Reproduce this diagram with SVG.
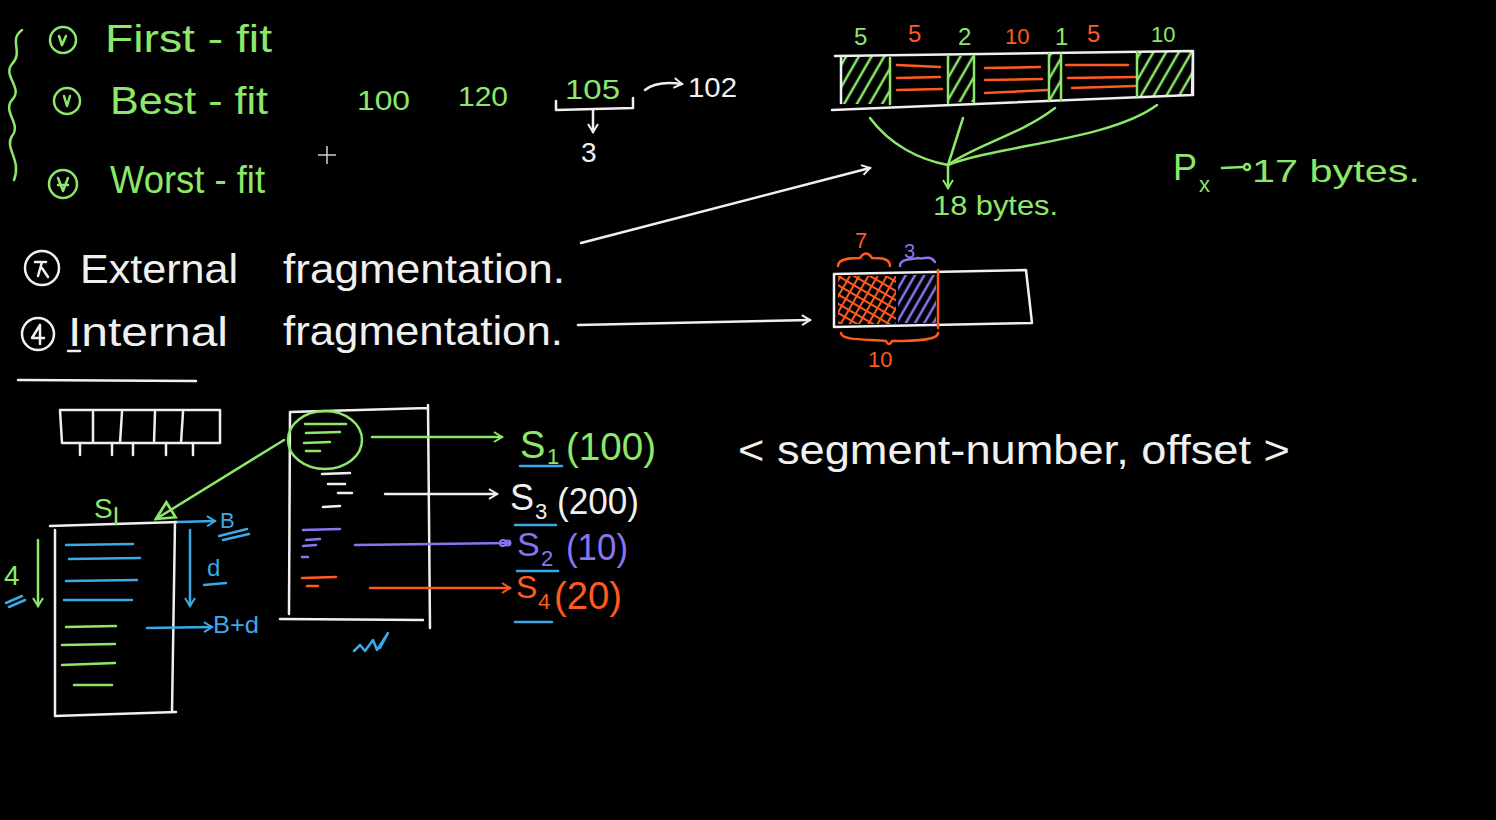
<svg xmlns="http://www.w3.org/2000/svg" width="1496" height="820" viewBox="0 0 1496 820">
<defs>
<style>
.g{fill:none;stroke:#8de86a;stroke-width:2.5;stroke-linecap:round;stroke-linejoin:round}
.w{fill:none;stroke:#f0f0f0;stroke-width:2.5;stroke-linecap:round;stroke-linejoin:round}
.o{fill:none;stroke:#ff5a1f;stroke-width:2.5;stroke-linecap:round;stroke-linejoin:round}
.p{fill:none;stroke:#8b74f0;stroke-width:2.5;stroke-linecap:round;stroke-linejoin:round}
.b{fill:none;stroke:#3ba9e6;stroke-width:2.5;stroke-linecap:round;stroke-linejoin:round}
text{font-family:"Liberation Sans","DejaVu Sans",sans-serif}
.tg{fill:#8de86a}.tw{fill:#f0f0f0}.to{fill:#ff5a1f}.tp{fill:#8b74f0}.tb{fill:#3ba9e6}
</style>
<pattern id="hg" width="11" height="11" patternUnits="userSpaceOnUse" patternTransform="rotate(30)"><line x1="2" y1="0" x2="2" y2="11" stroke="#8de86a" stroke-width="2.5"/></pattern>
<pattern id="hp" width="8" height="8" patternUnits="userSpaceOnUse" patternTransform="rotate(30)"><line x1="2" y1="0" x2="2" y2="8" stroke="#8b74f0" stroke-width="2.5"/></pattern>
<pattern id="ho" width="8" height="8" patternUnits="userSpaceOnUse" patternTransform="rotate(30)"><line x1="2" y1="0" x2="2" y2="8" stroke="#ff5a1f" stroke-width="2"/><line x1="0" y1="4" x2="8" y2="4" stroke="#ff5a1f" stroke-width="2"/></pattern>
<marker id="mw" viewBox="0 0 12 12" refX="10" refY="6" markerWidth="12" markerHeight="12" markerUnits="userSpaceOnUse" orient="auto"><path d="M2,1 L10,6 L2,11" fill="none" stroke="#f0f0f0" stroke-width="2"/></marker>
<marker id="mg" viewBox="0 0 12 12" refX="10" refY="6" markerWidth="12" markerHeight="12" markerUnits="userSpaceOnUse" orient="auto"><path d="M2,1 L10,6 L2,11" fill="none" stroke="#8de86a" stroke-width="2"/></marker>
<marker id="mgt" viewBox="0 0 20 20" refX="18" refY="10" markerWidth="22" markerHeight="22" markerUnits="userSpaceOnUse" orient="auto"><path d="M2,2 L18,10 L2,18 Z" fill="none" stroke="#8de86a" stroke-width="2.5"/></marker>
<marker id="mo" viewBox="0 0 12 12" refX="10" refY="6" markerWidth="12" markerHeight="12" markerUnits="userSpaceOnUse" orient="auto"><path d="M2,1 L10,6 L2,11" fill="none" stroke="#ff5a1f" stroke-width="2"/></marker>
<marker id="mb" viewBox="0 0 12 12" refX="10" refY="6" markerWidth="12" markerHeight="12" markerUnits="userSpaceOnUse" orient="auto"><path d="M2,1 L10,6 L2,11" fill="none" stroke="#3ba9e6" stroke-width="2"/></marker>
<marker id="mp" viewBox="0 0 14 10" refX="12" refY="5" markerWidth="14" markerHeight="10" markerUnits="userSpaceOnUse" orient="auto"><circle cx="5" cy="5" r="3" fill="none" stroke="#8b74f0" stroke-width="2"/><circle cx="10" cy="5" r="2.5" fill="none" stroke="#8b74f0" stroke-width="2"/></marker>
</defs>
<rect width="1496" height="820" fill="#000"/>

<g id="fit-list">
<path class="g" d="M22,30 C8,40 24,52 12,64 C2,76 24,88 12,100 C2,112 22,124 12,136 C4,148 22,160 14,180"/>
<circle class="g" cx="63" cy="40" r="13"/><path class="g" d="M59,36 L62,45 L66,36"/>
<circle class="g" cx="67" cy="101" r="13"/><path class="g" d="M64,96 L67,106 L70,96"/>
<circle class="g" cx="63" cy="184" r="14"/><path class="g" d="M58,178 L63,191 L68,178 M58,185 L68,185"/>
<text class="tg" x="105" y="52" font-size="38" textLength="167" lengthAdjust="spacingAndGlyphs">First - fit</text>
<text class="tg" x="110" y="114" font-size="38" textLength="158" lengthAdjust="spacingAndGlyphs">Best - fit</text>
<text class="tg" x="110" y="193" font-size="38" textLength="155" lengthAdjust="spacingAndGlyphs">Worst - fit</text>
</g>

<g id="cursor"><path d="M327,146 L327,164 M318,155 L336,155" stroke="#cfcfcf" stroke-width="1.5" fill="none"/></g>

<g id="holes">
<text class="tg" x="357" y="110" font-size="28" textLength="53" lengthAdjust="spacingAndGlyphs">100</text>
<text class="tg" x="458" y="106" font-size="28" textLength="50" lengthAdjust="spacingAndGlyphs">120</text>
<text class="tg" x="565" y="99" font-size="28" textLength="55" lengthAdjust="spacingAndGlyphs">105</text>
<path class="w" d="M556,101 L556,110 L633,108 L633,98"/>
<text class="tw" x="688" y="97" font-size="28" textLength="49" lengthAdjust="spacingAndGlyphs">102</text>
<text class="tw" x="581" y="162" font-size="28">3</text>
</g>

<g id="ext-bar">
<rect x="840" y="56" width="50" height="48" fill="url(#hg)"/>
<rect x="948" y="56" width="26" height="46" fill="url(#hg)"/>
<rect x="1049" y="54" width="12" height="46" fill="url(#hg)"/>
<rect x="1137" y="52" width="56" height="44" fill="url(#hg)"/>
<path class="o" d="M897,65 L940,67 M897,78 L940,77 M897,90 L942,89"/>
<path class="o" d="M985,68 L1040,67 M985,80 L1042,79 M985,93 L1048,90"/>
<path class="o" d="M1066,65 L1128,65 M1068,78 L1135,77 M1072,88 L1135,86"/>
<path class="w" d="M835,56 L1193,51 L1192,95 L832,110 M841,56 L841,103 M1193,51 L1193,95"/>
<path class="g" d="M890,58 L890,104 M948,56 L948,103 M974,56 L974,102 M1049,54 L1049,100 M1061,54 L1061,100 M1137,52 L1137,96"/>
<text class="tg" x="854" y="45" font-size="24">5</text>
<text class="to" x="908" y="42" font-size="24">5</text>
<text class="tg" x="958" y="45" font-size="24">2</text>
<text class="to" x="1005" y="44" font-size="22">10</text>
<text class="tg" x="1055" y="45" font-size="24">1</text>
<text class="to" x="1087" y="42" font-size="24">5</text>
<text class="tg" x="1151" y="42" font-size="22">10</text>
<text class="tg" x="933" y="215" font-size="28" textLength="125" lengthAdjust="spacingAndGlyphs">18 bytes.</text>
</g>

<g id="px">
<text class="tg" x="1173" y="180" font-size="36">P</text>
<text class="tg" x="1199" y="192" font-size="22">x</text>
<text class="tg" x="1252" y="182" font-size="32" textLength="168" lengthAdjust="spacingAndGlyphs">17 bytes.</text>
</g>

<g id="fragmentation">
<circle class="w" cx="42" cy="268" r="17"/><path class="w" d="M35,262 L46,262 M42,262 L38,276 M42,268 L48,277"/>
<text class="tw" x="80" y="283" font-size="40" textLength="158" lengthAdjust="spacingAndGlyphs">External</text>
<text class="tw" x="283" y="283" font-size="40" textLength="282" lengthAdjust="spacingAndGlyphs">fragmentation.</text>
<circle class="w" cx="38" cy="334" r="16"/><path class="w" d="M40,325 L32,338 L44,338 M40,325 L40,344"/>
<text class="tw" x="68" y="346" font-size="40" textLength="160" lengthAdjust="spacingAndGlyphs">Internal</text>
<path class="w" d="M68,351 L80,351"/>
<text class="tw" x="283" y="345" font-size="40" textLength="280" lengthAdjust="spacingAndGlyphs">fragmentation.</text>
<path class="w" d="M18,380 L196,381"/>
</g>

<g id="int-box">
<rect x="838" y="276" width="58" height="48" fill="url(#ho)"/>
<rect x="898" y="275" width="38" height="48" fill="url(#hp)"/>
<path class="w" d="M834,274 L1026,270 L1032,323 L834,327 Z"/>
<path class="o" d="M938,270 L938,328"/>
<path class="o" d="M838,266 C838,258 852,258 860,258 C864,252 868,252 872,258 C880,258 890,258 890,266"/>
<text class="to" x="855" y="248" font-size="22">7</text>
<path class="p" d="M900,266 C900,258 912,260 918,258 C924,260 930,254 935,262"/>
<text class="tp" x="904" y="258" font-size="20">3</text>
<path class="o" d="M841,333 C841,341 870,339 886,341 C888,345 890,345 892,341 C910,341 938,341 938,333"/>
<text class="to" x="868" y="367" font-size="22">10</text>
</g>

<g id="small-bar">
<path class="w" d="M60,410 L220,410 L220,443 L62,443 Z M93,412 L93,443 M122,412 L120,443 M155,412 L154,443 M183,412 L181,443"/>
<path class="w" d="M80,443 L80,455 M112,443 L112,455 M133,443 L133,455 M166,443 L166,455 M193,443 L193,455"/>
</g>

<g id="segment-s1">
<path class="w" d="M50,526 L178,522 M55,530 L55,716 M175,522 L172,712 M55,716 L176,712"/>
<path class="b" d="M66,545 L133,544 M69,559 L140,558 M66,581 L137,580 M64,600 L132,600"/>
<path class="g" d="M66,627 L116,626 M62,645 L115,644 M62,665 L115,663 M74,685 L112,685"/>
<text class="tg" x="94" y="518" font-size="28">S</text>
<path class="g" d="M116,508 L116,524"/>
<text class="tg" x="4" y="585" font-size="28">4</text>
<path class="b" d="M6,603 L22,596 M9,607 L25,600"/>
<text class="tb" x="220" y="528" font-size="22">B</text>
<path class="b" d="M219,536 L247,529 M223,540 L249,534"/>
<text class="tb" x="207" y="576" font-size="24">d</text>
<path class="b" d="M204,585 L226,583"/>
<text class="tb" x="213" y="633" font-size="24" textLength="46" lengthAdjust="spacingAndGlyphs">B+d</text>
</g>

<g id="segment-table">
<path class="w" d="M290,412 L428,408 M290,412 L289,614 M428,405 L430,628 M280,619 L423,620"/>
<ellipse class="g" cx="325" cy="440" rx="37" ry="29"/>
<path class="g" d="M305,424 L346,424 M306,433 L340,432 M304,443 L330,442 M306,451 L320,451"/>
<path class="w" d="M322,474 L350,473 M328,484 L345,484 M338,493 L352,493 M323,507 L340,506"/>
<path class="p" d="M303,530 L340,529 M306,540 L320,539 M303,546 L316,545 M302,557 L308,557"/>
<path class="o" d="M302,578 L336,577 M307,586 L318,586"/>
<path class="b" d="M354,651 L360,645 L365,651 L373,640 L377,650 L388,633 L380,648"/>
<text class="tg" x="520" y="458" font-size="38">S</text>
<text class="tg" x="547" y="464" font-size="22">1</text>
<text class="tg" x="566" y="460" font-size="38" textLength="90" lengthAdjust="spacingAndGlyphs">(100)</text>
<text class="tw" x="510" y="510" font-size="36">S</text>
<text class="tw" x="535" y="519" font-size="22">3</text>
<text class="tw" x="557" y="514" font-size="36" textLength="82" lengthAdjust="spacingAndGlyphs">(200)</text>
<text class="tp" x="517" y="556" font-size="34">S</text>
<text class="tp" x="541" y="566" font-size="22">2</text>
<text class="tp" x="566" y="560" font-size="36" textLength="62" lengthAdjust="spacingAndGlyphs">(10)</text>
<text class="to" x="516" y="598" font-size="32">S</text>
<text class="to" x="538" y="609" font-size="22">4</text>
<text class="to" x="554" y="609" font-size="38" textLength="68" lengthAdjust="spacingAndGlyphs">(20)</text>
<path class="b" d="M520,466 L562,466 M515,525 L556,525 M517,571 L558,571 M515,622 L552,622"/>
</g>

<g id="address">
<text class="tw" x="738" y="464" font-size="40" textLength="552" lengthAdjust="spacingAndGlyphs">&lt; segment-number, offset &gt;</text>
</g>

<g id="connectors">
<path class="w" d="M645,90 C655,82 668,82 682,84" marker-end="url(#mw)"/>
<path class="w" d="M593,110 L593,132" marker-end="url(#mw)"/>
<path class="g" d="M870,118 C890,145 920,160 948,165"/>
<path class="g" d="M963,118 L948,165"/>
<path class="g" d="M1055,108 C1020,135 975,145 948,165"/>
<path class="g" d="M1157,105 C1110,140 1000,145 948,165"/>
<path class="g" d="M948,165 L948,188" marker-end="url(#mg)"/>
<path class="g" d="M1222,168 L1243,167"/><circle class="g" cx="1247" cy="167" r="3"/>
<path class="w" d="M581,243 L870,168" marker-end="url(#mw)"/>
<path class="w" d="M578,325 L810,320" marker-end="url(#mw)"/>
<path class="g" d="M284,440 L156,519" marker-end="url(#mgt)"/>
<path class="g" d="M38,540 L38,606" marker-end="url(#mg)"/>
<path class="b" d="M178,522 L215,521" marker-end="url(#mb)"/>
<path class="b" d="M190,530 L190,606" marker-end="url(#mb)"/>
<path class="b" d="M147,628 L212,627" marker-end="url(#mb)"/>
<path class="g" d="M372,437 L502,437" marker-end="url(#mg)"/>
<path class="w" d="M385,494 L497,494" marker-end="url(#mw)"/>
<path class="p" d="M355,545 L510,543" marker-end="url(#mp)"/>
<path class="o" d="M370,588 L510,588" marker-end="url(#mo)"/>
</g>
</svg>
